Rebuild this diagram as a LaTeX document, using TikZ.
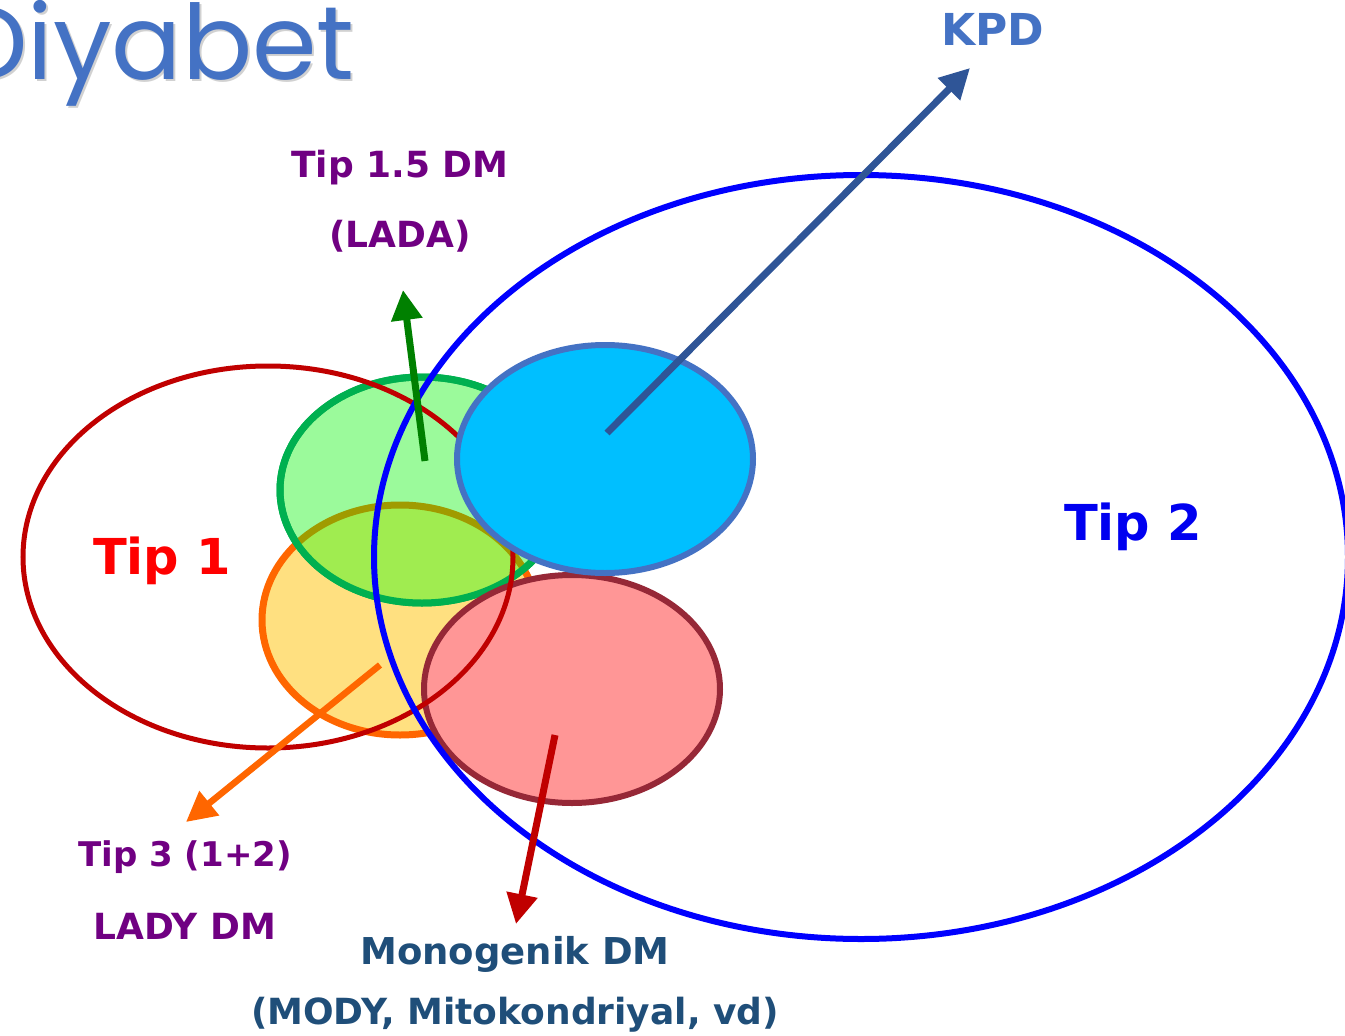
\documentclass[tikz,border=0pt]{standalone}
\usepackage{fontspec}
\setmainfont{DejaVu Sans}
\newfontfamily\titlefont{Poppins}
\usetikzlibrary{arrows.meta}
\definecolor{titleblue}{RGB}{68,114,196}
\definecolor{kpdblue}{RGB}{47,85,151}
\definecolor{labpurple}{RGB}{112,0,130}
\definecolor{monoblue}{RGB}{31,78,121}
\definecolor{tiponered}{RGB}{255,0,0}
\definecolor{tiptwoblue}{RGB}{0,0,240}
\definecolor{darkred}{RGB}{192,0,0}
\definecolor{bigblue}{RGB}{0,0,255}
\definecolor{greenedge}{RGB}{0,176,80}
\definecolor{greenfill}{RGB}{155,250,155}
\definecolor{orangeedge}{RGB}{255,102,0}
\definecolor{yellowfill}{RGB}{255,224,128}
\definecolor{mixfill}{RGB}{160,236,80}
\definecolor{oliveedge}{RGB}{160,155,0}
\definecolor{cyanfill}{RGB}{0,191,255}
\definecolor{cyanedge}{RGB}{68,114,196}
\definecolor{pinkfill}{RGB}{255,150,150}
\definecolor{pinkedge}{RGB}{150,40,55}
\definecolor{arrowgreen}{RGB}{0,128,0}
\tikzset{
  lab/.style={font=\bfseries\fontsize{36}{42}\selectfont, inner sep=0pt},
  bigarrow/.style={line width=7pt, -{Triangle[length=30pt,width=30pt]}},
}
\begin{document}
\begin{tikzpicture}[x=1pt,y=-1pt]
\useasboundingbox (0,0) rectangle (1345,1036);
% title
\node[anchor=base east, inner sep=0pt, text=black!18, font=\titlefont\fontsize{104}{120}\selectfont] (titleshadow) at (357,81) {Diyabet};
\node[anchor=base east, inner sep=0pt, text=titleblue, font=\titlefont\fontsize{104}{120}\selectfont] (title) at (355,79) {Diyabet};
% orange / yellow ellipse
\draw[orangeedge, fill=yellowfill, line width=7pt] (400,620) ellipse [x radius=138, y radius=115];
% green ellipse
\draw[greenedge, fill=greenfill, line width=7pt] (422,490) ellipse [x radius=142, y radius=113];
% intersection
\begin{scope}
  \clip (422,490) ellipse [x radius=142, y radius=113];
  \fill[mixfill] (400,620) ellipse [x radius=138, y radius=115];
  \draw[oliveedge, line width=7pt] (400,620) ellipse [x radius=138, y radius=115];
\end{scope}
\draw[greenedge, line width=7pt] (422,490) ellipse [x radius=142, y radius=113];
% pink ellipse
\draw[pinkedge, fill=pinkfill, line width=6pt] (572,689) ellipse [x radius=148, y radius=114];
% Tip 1 ellipse
\draw[darkred, line width=5pt] (268,557) ellipse [x radius=245, y radius=191];
% Tip 2 ellipse
\draw[bigblue, line width=6pt] (861,557) ellipse [x radius=487, y radius=382];
% cyan ellipse
\draw[cyanedge, fill=cyanfill, line width=6pt] (605,459) ellipse [x radius=148, y radius=114];
% anchor points
\coordinate (kpdstart) at (607,433);
\coordinate (kpdend) at (970,68);
\coordinate (ladastart) at (425,461);
\coordinate (ladaend) at (403,290);
\coordinate (tipthreestart) at (380,665);
\coordinate (tipthreeend) at (186,822);
\coordinate (monostart) at (555,735);
\coordinate (monoend) at (516,924);
% arrows
\draw[bigarrow, kpdblue] (kpdstart) -- (kpdend);
\draw[bigarrow, arrowgreen] (ladastart) -- (ladaend);
\draw[bigarrow, orangeedge, line width=6.5pt] (tipthreestart) -- (tipthreeend);
\draw[bigarrow, darkred] (monostart) -- (monoend);
% labels
\node[lab, text=titleblue, font=\bfseries\fontsize{44}{50}\selectfont] (kpd) at (993,29) {KPD};
\node[lab, text=labpurple] (lada1) at (400,168) {Tip 1.5 DM};
\node[lab, text=labpurple] (lada2) at (400,236) {(LADA)};
\node[lab, text=tiponered, font=\bfseries\fontsize{49.5}{56}\selectfont] (tip1) at (162,561) {Tip 1};
\node[lab, text=tiptwoblue, font=\bfseries\fontsize{49.5}{56}\selectfont] (tip2) at (1133,527) {Tip 2};
\node[lab, text=labpurple, font=\bfseries\fontsize{34}{40}\selectfont] (tip3a) at (185,857) {Tip 3 (1+2)};
\node[lab, text=labpurple] (tip3b) at (185,926) {LADY DM};
\node[lab, text=monoblue, font=\bfseries\fontsize{37}{42}\selectfont] (mono1) at (515,954) {Monogenik DM};
\node[lab, text=monoblue] (mono2) at (515,1015) {(MODY, Mitokondriyal, vd)};
\end{tikzpicture}
\end{document}
